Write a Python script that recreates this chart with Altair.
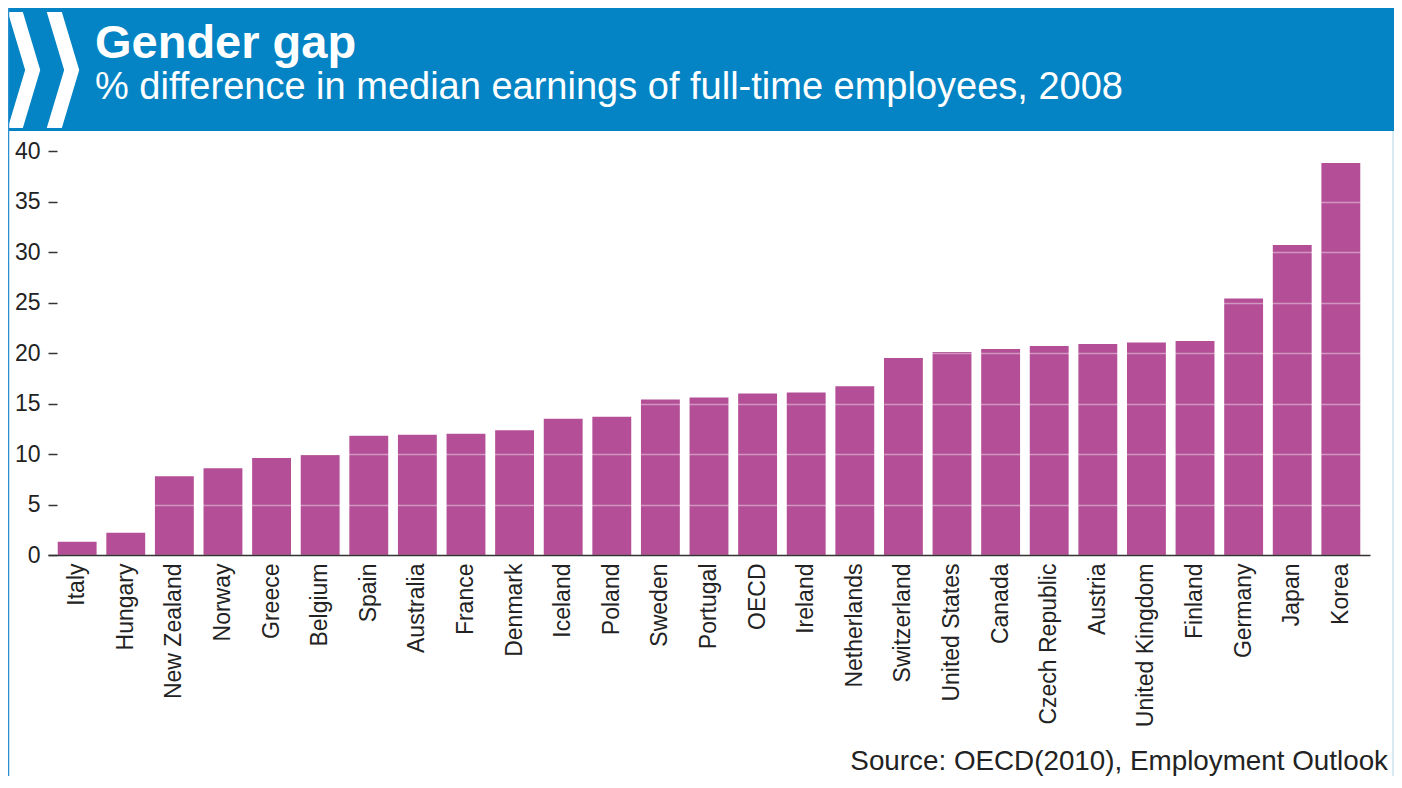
import altair as alt
import pandas as pd

countries = ["Italy", "Hungary", "New Zealand", "Norway", "Greece", "Belgium", "Spain",
             "Australia", "France", "Denmark", "Iceland", "Poland", "Sweden", "Portugal",
             "OECD", "Ireland", "Netherlands", "Switzerland", "United States", "Canada",
             "Czech Republic", "Austria", "United Kingdom", "Finland", "Germany", "Japan", "Korea"]
gaps = [1.3, 2.2, 7.8, 8.6, 9.6, 9.9, 11.8,
        11.9, 12.0, 12.35, 13.5, 13.7, 15.4, 15.6,
        16.0, 16.1, 16.7, 19.5, 20.1, 20.4,
        20.7, 20.9, 21.05, 21.2, 25.4, 30.7, 38.8]
y_ticks = [0, 5, 10, 15, 20, 25, 30, 35, 40]

title_text = "Gender gap"
subtitle_text = "% difference in median earnings of full-time employees, 2008"
source_text = "Source: OECD(2010), Employment Outlook"

FONT = "Liberation Sans"
BLUE = "#0484C4"
BAR = "#B44F97"

df = pd.DataFrame({"country": countries, "gap": gaps})
one = pd.DataFrame({"k": [0]})

bars = alt.Chart(df).mark_bar(color=BAR).encode(
    x=alt.X("country:N", sort=countries,
            scale=alt.Scale(paddingInner=0.2, paddingOuter=0.2),
            axis=alt.Axis(title=None, labelAngle=270, labelFontSize=23, labelFont=FONT,
                          labelColor="#222222", ticks=False, labelPadding=8,
                          domainColor="#333333", domainWidth=1.5, grid=False, zindex=1)),
    y=alt.Y("gap:Q", scale=alt.Scale(domain=[0, 40], nice=False),
            axis=alt.Axis(title=None, values=y_ticks, labelFontSize=23, labelFont=FONT,
                          labelColor="#222222", domain=False, tickSize=9, tickWidth=1.5,
                          tickColor="#333333", offset=-9, labelPadding=8,
                          grid=True, gridColor="#ffffff", gridOpacity=0.4, gridWidth=1.5,
                          zindex=1)),
)

header = alt.Chart(one).mark_rect(color=BLUE).encode(
    x=alt.value(-40), x2=alt.value(1346), y=alt.value(-143), y2=alt.value(-20)
)

chev_path = "M-0.28,-1L-0.02,-1L0.28,0L-0.02,1L-0.28,1L0.02,0Z"
chev1 = alt.Chart(one).mark_point(shape=chev_path, filled=True, color="white",
                                   opacity=1, strokeWidth=0).encode(
    x=alt.value(-24), y=alt.value(-81), size=alt.value(13456)
)
chev2 = alt.Chart(one).mark_point(shape=chev_path, filled=True, color="white",
                                   opacity=1, strokeWidth=0).encode(
    x=alt.value(15), y=alt.value(-81), size=alt.value(13456)
)

title = alt.Chart(one).mark_text(font=FONT, fontSize=47, fontWeight="bold", color="white",
                                  align="left", baseline="alphabetic").encode(
    x=alt.value(47), y=alt.value(-93), text=alt.value(title_text)
)
subtitle = alt.Chart(one).mark_text(font=FONT, fontSize=38, color="white",
                                     align="left", baseline="alphabetic").encode(
    x=alt.value(47), y=alt.value(-52), text=alt.value(subtitle_text)
)
source = alt.Chart(one).mark_text(font=FONT, fontSize=27.8, color="#222222",
                                   align="right", baseline="alphabetic").encode(
    x=alt.value(1340), y=alt.value(619), text=alt.value(source_text)
)

left_border = alt.Chart(one).mark_rule(color="#2a8fd0", strokeWidth=1.5).encode(
    x=alt.value(-39.5), y=alt.value(-143), y2=alt.value(625)
)
right_border = alt.Chart(one).mark_rule(color="#cde3f2", strokeWidth=1.5).encode(
    x=alt.value(1345), y=alt.value(-20), y2=alt.value(625)
)

chart = alt.layer(
    header, chev1, chev2, title, subtitle, bars, source, left_border, right_border
).properties(
    width=1322, height=404,
    autosize=alt.AutoSizeParams(type="none"),
    padding={"left": 40, "top": 143, "right": 24, "bottom": 221},
    background="white",
).configure_view(strokeWidth=0)

chart.save("out.html", embed_options={"renderer": "svg", "actions": False})
